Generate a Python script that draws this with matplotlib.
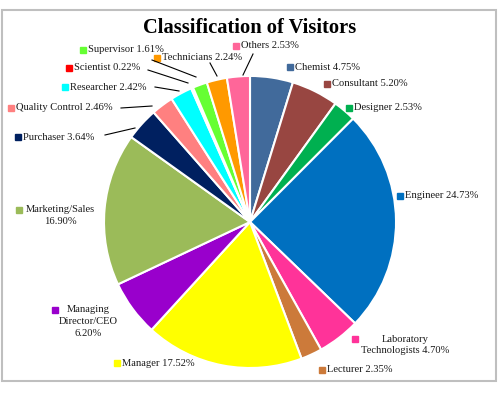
import matplotlib.pyplot as plt
from matplotlib.patches import Rectangle

categories = ['Chemist', 'Consultant', 'Designer', 'Engineer', 'Laboratory Technologists',
              'Lecturer', 'Manager', 'Managing Director/CEO', 'Marketing/Sales', 'Purchaser',
              'Quality Control', 'Researcher', 'Scientist', 'Supervisor', 'Technicians', 'Others']
shares = [4.75, 5.20, 2.53, 24.73, 4.70, 2.35, 17.52, 6.20, 16.90, 3.64,
          2.46, 2.42, 0.22, 1.61, 2.24, 2.53]
colors = ['#416A9B', '#984641', '#00B050', '#0070C0', '#FF3399', '#CC7A3A', '#FFFF00',
          '#9900CC', '#9BBB59', '#002060', '#FF8080', '#00FFFF', '#FF0000', '#66FF33',
          '#FF9900', '#FF6699']
explode = [8, 4, 4, 3, 5, 6, 0, 0, 0, 0, 2, 2, 2, 2, 2, 2]

# label layout in pixel coords (y from top): text lines, square x, y, centre x of
# multi-line text, leader line
labels = [
    (['Chemist 4.75%'], 290, 67, None, None),
    (['Consultant 5.20%'], 327, 84, None, None),
    (['Designer 2.53%'], 349, 108, None, None),
    (['Engineer 24.73%'], 400, 196, None, None),
    (['Laboratory', 'Technologists 4.70%'], 355, 339, 405, None),
    (['Lecturer 2.35%'], 322, 370, None, None),
    (['Manager 17.52%'], 117, 363, None, None),
    (['Managing', 'Director/CEO', '6.20%'], 55, 310, 88, None),
    (['Marketing/Sales', '16.90%'], 19, 210, 60, None),
    (['Purchaser 3.64%'], 18, 137, None, ((105, 135), (135, 128))),
    (['Quality Control 2.46%'], 11, 108, None, ((121, 108), (152, 106))),
    (['Researcher 2.42%'], 65, 87, None, ((155, 87), (179, 91))),
    (['Scientist 0.22%'], 69, 68, None, ((148, 70), (188, 83))),
    (['Supervisor 1.61%'], 83, 50, None, ((152, 60), (196, 77))),
    (['Technicians 2.24%'], 157, 58, None, ((210, 63), (217, 76))),
    (['Others 2.53%'], 236, 46, None, ((253, 54), (243, 75))),
]

W, H = 500, 393
fig = plt.figure(figsize=(5, 3.93), dpi=100)
ax = fig.add_axes([0, 0, 1, 1])

cx, cy, r = 250, H - 222, 146
ax.pie(shares, colors=colors, startangle=90, counterclock=False,
       explode=[e / r for e in explode], radius=r, center=(cx, cy),
       wedgeprops=dict(edgecolor='white', linewidth=1.5), frame=True)
ax.set_xlim(0, W)
ax.set_ylim(0, H)
ax.axis('off')

# chart border
ax.add_patch(Rectangle((2, H - 381), 494, 371, fill=False, edgecolor='#BFBFBF', linewidth=1.5))

ax.text(250, H - 28, 'Classification of Visitors', ha='center', va='center',
        fontsize=14.8, fontweight='bold', family='Liberation Serif')

font = dict(fontsize=7.6, family='Liberation Serif', color='#1a1a1a')
for (lines, sx, sy, mid, leader), col in zip(labels, colors):
    ax.add_patch(Rectangle((sx - 3, H - sy - 3), 6, 6, color=col))
    if mid is None:
        ax.text(sx + 5, H - sy, lines[0], ha='left', va='center', **font)
    else:
        for i, s in enumerate(lines):
            ax.text(mid, H - sy - i * 11.5, s, ha='center', va='center', **font)
    if leader:
        (x0, y0), (x1, y1) = leader
        ax.plot([x0, x1], [H - y0, H - y1], color='black', linewidth=0.8)

fig.savefig('out.png', dpi=100)
